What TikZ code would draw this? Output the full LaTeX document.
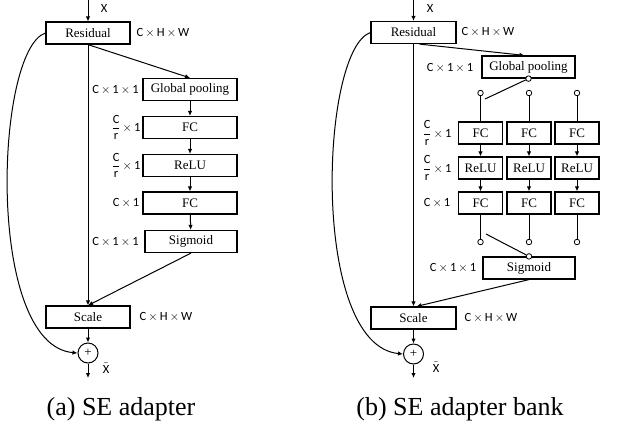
\documentclass[tikz,border=0pt]{standalone}
\usepackage{fontspec}
\setmainfont{Liberation Serif}
\newfontfamily\labelfont{Carlito}
\usetikzlibrary{arrows.meta}

\tikzset{
  block/.style={draw, line width=1.2pt, minimum height=22pt, inner sep=0pt, font=\fontsize{13}{14}\selectfont},
  dimlabel/.style={font=\labelfont\fontsize{12.5}{13}\selectfont, inner sep=0pt},
  flow/.style={line width=1pt, -{Latex[length=5pt,width=4.5pt]}},
  wire/.style={line width=1pt},
  tap/.style={circle, draw, line width=0.8pt, minimum size=5.5pt, inner sep=0pt, fill=white},
  adder/.style={circle, draw, line width=1pt, minimum size=20pt, inner sep=0pt, font=\fontsize{13}{14}\selectfont},
  caption/.style={font=\fontsize{26}{30}\selectfont}
}

\begin{document}
\begin{tikzpicture}[x=1pt, y=-1pt]
\useasboundingbox (0,0) rectangle (634,424);

% (a) SE adapter
\coordinate (inA) at (88,0);
\node[block, minimum width=84pt] (resA) at (88,33) {Residual};
\node[block, minimum width=94pt] (gpA) at (190,89.5) {Global pooling};
\node[block, minimum width=94pt] (fcA1) at (190,127.5) {FC};
\node[block, minimum width=94pt] (reluA) at (190,165.5) {ReLU};
\node[block, minimum width=94pt] (fcA2) at (190,203) {FC};
\node[block, minimum width=92pt] (sigA) at (191,241.5) {Sigmoid};
\node[block, minimum width=84pt] (scaleA) at (88,317) {Scale};
\node[adder] (addA) at (88,353) {+};
\coordinate (outA) at (88,378);

\node[dimlabel] (xA) at (104,8) {X};
\node[dimlabel] at (163,33) {C\,$\times$\,H\,$\times$\,W};
\node[dimlabel] at (115.5,90) {C\,$\times$\,1\,$\times$\,1};
\node[dimlabel] at (126,127.5) {$\displaystyle\frac{\mbox{C}}{\mbox{r}}$\,$\times$\,1};
\node[dimlabel] at (126,165.5) {$\displaystyle\frac{\mbox{C}}{\mbox{r}}$\,$\times$\,1};
\node[dimlabel] at (126,203) {C\,$\times$\,1};
\node[dimlabel] at (115.5,242) {C\,$\times$\,1\,$\times$\,1};
\node[dimlabel] at (166,317) {C\,$\times$\,H\,$\times$\,W};
\node[dimlabel] (xtA) at (106,368) {$\tilde{\mbox{X}}$};

\draw[flow] (inA) -- (resA);
\draw[flow] (resA.south) -- (gpA.north);
\draw[flow] (gpA) -- (fcA1);
\draw[flow] (fcA1) -- (reluA);
\draw[flow] (reluA) -- (fcA2);
\draw[flow] (fcA2) -- (sigA);
\draw[flow] (resA.south) -- (scaleA.north);
\draw[flow] (sigA.south) -- (scaleA.north);
\draw[flow] (scaleA) -- (addA);
\draw[flow] (addA) -- (outA);
\draw[flow] (resA.west) .. controls (-5,50) and (-15,345) .. (addA.west);

\node[caption] at (121,409) {(a) SE adapter};

% (b) SE adapter bank
\coordinate (inB) at (413.5,0);
\node[block, minimum width=85pt] (resB) at (413.5,32.5) {Residual};
\node[block, minimum width=93pt] (gpB) at (528.5,67) {Global pooling};
\node[tap] (tapGP) at (gpB.south) {};
\coordinate (swTop) at (485,99);

\foreach \c/\x in {1/480.5, 2/529, 3/577} {
  \node[tap] (tapIn\c) at (\x,93) {};
  \node[block, minimum width=44pt] (fcB\c) at (\x,133) {FC};
  \node[block, minimum width=44pt] (reluB\c) at (\x,168) {ReLU};
  \node[block, minimum width=44pt] (fcC\c) at (\x,203) {FC};
  \node[tap] (tapOut\c) at (\x,242) {};
  \draw[wire] (tapIn\c) -- (fcB\c);
  \draw[flow] (fcB\c) -- (reluB\c);
  \draw[flow] (reluB\c) -- (fcC\c);
  \draw[wire] (fcC\c) -- (tapOut\c);
}

\coordinate (swBot) at (486,234);
\node[block, minimum width=92pt] (sigB) at (529,268) {Sigmoid};
\node[tap] (tapSig) at (sigB.north) {};
\node[block, minimum width=85pt] (scaleB) at (413.5,318) {Scale};
\node[adder] (addB) at (413.5,354) {+};
\coordinate (outB) at (413.5,378);

\node[dimlabel] (xB) at (430,8) {X};
\node[dimlabel] at (488,32) {C\,$\times$\,H\,$\times$\,W};
\node[dimlabel] at (450,68) {C\,$\times$\,1\,$\times$\,1};
\node[dimlabel] at (437,133) {$\displaystyle\frac{\mbox{C}}{\mbox{r}}$\,$\times$\,1};
\node[dimlabel] at (437,168) {$\displaystyle\frac{\mbox{C}}{\mbox{r}}$\,$\times$\,1};
\node[dimlabel] at (437,203) {C\,$\times$\,1};
\node[dimlabel] at (453,268) {C\,$\times$\,1\,$\times$\,1};
\node[dimlabel] at (491,318) {C\,$\times$\,H\,$\times$\,W};
\node[dimlabel] (xtB) at (436,367) {$\tilde{\mbox{X}}$};

\draw[flow] (inB) -- (resB);
\draw[flow] ([xshift=6pt]resB.south) -- ([xshift=-4pt]gpB.north);
\draw[wire] (tapGP) -- (swTop);
\draw[wire] (swBot) -- (tapSig);
\draw[flow] (resB.south) -- (scaleB.north);
\draw[flow] (sigB.south) -- ([xshift=3pt]scaleB.north);
\draw[flow] (scaleB) -- (addB);
\draw[flow] (addB) -- (outB);
\draw[flow] (resB.west) .. controls (320,50) and (310,345) .. (addB.west);

\node[caption] at (460,409) {(b) SE adapter bank};

\end{tikzpicture}
\end{document}
